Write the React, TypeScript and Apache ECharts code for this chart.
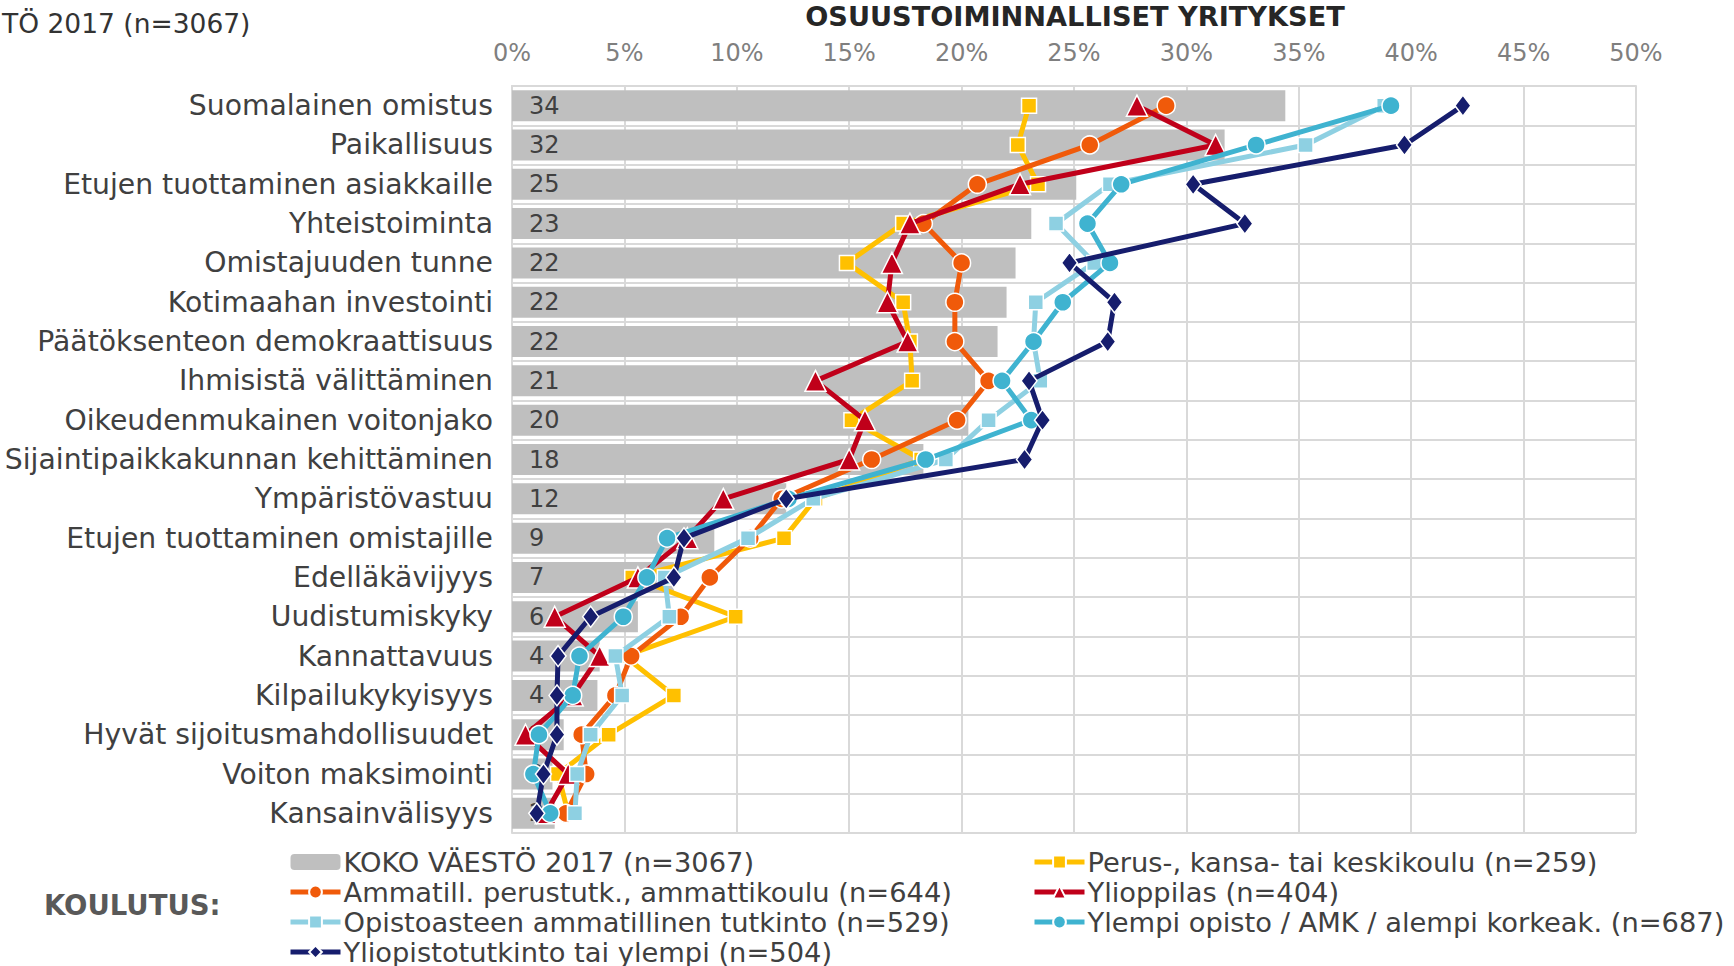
import React, { useEffect, useRef } from "react";
import * as echarts from "echarts";

const categories = [
  "Suomalainen omistus",
  "Paikallisuus",
  "Etujen tuottaminen asiakkaille",
  "Yhteistoiminta",
  "Omistajuuden tunne",
  "Kotimaahan investointi",
  "Päätöksenteon demokraattisuus",
  "Ihmisistä välittäminen",
  "Oikeudenmukainen voitonjako",
  "Sijaintipaikkakunnan kehittäminen",
  "Ympäristövastuu",
  "Etujen tuottaminen omistajille",
  "Edelläkävijyys",
  "Uudistumiskyky",
  "Kannattavuus",
  "Kilpailukykyisyys",
  "Hyvät sijoitusmahdollisuudet",
  "Voiton maksimointi",
  "Kansainvälisyys",
];

const kokoValues = [34.4, 31.7, 25.1, 23.1, 22.4, 22.0, 21.6, 20.6, 20.3, 18.3, 12.2, 9.0, 7.2, 5.6, 3.9, 3.8, 2.3, 1.8, 1.9];
const perusValues = [23.0, 22.5, 23.4, 17.4, 14.9, 17.4, 17.7, 17.8, 15.1, 18.2, 13.5, 12.1, 5.35, 9.95, 5.0, 7.2, 4.3, 2.05, 2.5];
const ammatillValues = [29.1, 25.7, 20.7, 18.3, 20.0, 19.7, 19.7, 21.2, 19.8, 16.0, 12.0, 10.6, 8.8, 7.5, 5.3, 4.6, 3.1, 3.3, 2.4];
const ylioppilasValues = [27.8, 31.3, 22.6, 17.7, 16.9, 16.7, 17.6, 13.5, 15.7, 15.0, 9.4, 7.8, 5.6, 1.9, 3.9, 2.7, 0.6, 2.5, 1.5];
const opistoValues = [38.8, 35.3, 26.6, 24.2, 25.9, 23.3, 23.2, 23.5, 21.2, 19.3, 13.4, 10.5, 6.8, 7.0, 4.6, 4.9, 3.5, 2.9, 2.8];
const ylempiValues = [39.1, 33.1, 27.1, 25.6, 26.6, 24.5, 23.2, 21.8, 23.1, 18.4, 12.3, 6.9, 6.0, 4.95, 3.0, 2.7, 1.2, 0.95, 1.7];
const yliopistoValues = [42.3, 39.7, 30.3, 32.6, 24.8, 26.8, 26.5, 23.0, 23.6, 22.8, 12.2, 7.65, 7.2, 3.5, 2.05, 2.0, 2.0, 1.4, 1.1];

const xMin = 0;
const xMax = 50;
const xStep = 5;

const seriesNames = {
  koko: "KOKO VÄESTÖ 2017 (n=3067)",
  perus: "Perus-, kansa- tai keskikoulu (n=259)",
  ammatill: "Ammatill. perustutk., ammattikoulu (n=644)",
  ylioppilas: "Ylioppilas (n=404)",
  opisto: "Opistoasteen ammatillinen tutkinto (n=529)",
  ylempi: "Ylempi opisto / AMK / alempi korkeak. (n=687)",
  yliopisto: "Yliopistotutkinto tai ylempi (n=504)",
};

const FONT = "'DejaVu Sans', Verdana, sans-serif";

function lineSeries(name: string, data: number[], color: string, symbol: string, size: any, z: number) {
  return {
    type: "line",
    name,
    data,
    symbol,
    symbolSize: size,
    z,
    lineStyle: { color, width: 5 },
    itemStyle: { color, borderColor: "#ffffff", borderWidth: 1.5 },
    emphasis: { disabled: true },
  };
}

const legendBase = {
  orient: "vertical",
  top: 848,
  itemWidth: 50,
  itemHeight: 16,
  itemGap: 2,
  padding: 0,
  lineStyle: { width: 5 },
  textStyle: { color: "#404040", fontSize: 27.3, fontFamily: FONT, lineHeight: 28, padding: [0, 0, 0, -2] },
  selectedMode: false,
};

export default function App() {
  const ref = useRef<HTMLDivElement>(null);
  useEffect(() => {
    if (!ref.current) return;
    const chart = echarts.init(ref.current, undefined, { renderer: "svg" });
    const option = {
      animation: false,
      backgroundColor: "#ffffff",
      textStyle: { fontFamily: FONT },
      grid: { left: 512, right: 98, top: 86, height: 747, containLabel: false },
      xAxis: {
        type: "value",
        position: "top",
        min: xMin,
        max: xMax,
        interval: xStep,
        axisLabel: { formatter: "{value}%", color: "#7f7f7f", fontSize: 24, fontFamily: FONT, margin: 21 },
        axisLine: { show: true, lineStyle: { color: "#d9d9d9", width: 2 } },
        axisTick: { show: false },
        splitLine: { show: true, lineStyle: { color: "#d9d9d9", width: 2 } },
      },
      yAxis: {
        type: "category",
        inverse: true,
        data: categories,
        axisLabel: { color: "#404040", fontSize: 28.25, fontFamily: FONT, margin: 19 },
        axisLine: { show: true, lineStyle: { color: "#d9d9d9", width: 2 } },
        axisTick: { show: false },
        splitLine: { show: true, lineStyle: { color: "#d9d9d9", width: 2 } },
      },
      legend: [
        {
          ...legendBase,
          data: [seriesNames.koko, seriesNames.ammatill, seriesNames.opisto, seriesNames.yliopisto],
          left: 288,
        },
        {
          ...legendBase,
          data: [seriesNames.perus, seriesNames.ylioppilas, seriesNames.ylempi],
          left: 1032,
        },
      ],
      graphic: [
        {
          type: "text",
          x: 2,
          y: 23,
          style: {
            text: "TÖ 2017 (n=3067)",
            fill: "#333333",
            font: `26.5px ${FONT}`,
            align: "left",
            verticalAlign: "middle",
            textAlign: "left",
            textVerticalAlign: "middle",
          },
        },
        {
          type: "text",
          x: 1075,
          y: 16,
          style: {
            text: "OSUUSTOIMINNALLISET YRITYKSET",
            fill: "#262626",
            font: `bold 27.2px ${FONT}`,
            align: "center",
            verticalAlign: "middle",
            textAlign: "center",
            textVerticalAlign: "middle",
          },
        },
        {
          type: "text",
          x: 44,
          y: 905,
          style: {
            text: "KOULUTUS:",
            fill: "#595959",
            font: `bold 27.5px ${FONT}`,
            align: "left",
            verticalAlign: "middle",
            textAlign: "left",
            textVerticalAlign: "middle",
          },
        },
      ],
      series: [
        {
          type: "bar",
          name: seriesNames.koko,
          data: kokoValues,
          barWidth: 31,
          z: 1,
          itemStyle: { color: "#bfbfbf" },
          emphasis: { disabled: true },
          label: {
            show: true,
            position: "insideLeft",
            distance: 17,
            color: "#404040",
            fontSize: 24,
            fontFamily: FONT,
            formatter: (p: any) => String(Math.round(p.value)),
          },
        },
        lineSeries(seriesNames.perus, perusValues, "#ffc000", "rect", 15, 3),
        lineSeries(seriesNames.ammatill, ammatillValues, "#f05a0a", "circle", 18, 4),
        lineSeries(seriesNames.ylioppilas, ylioppilasValues, "#c0001a", "triangle", 21, 5),
        lineSeries(seriesNames.opisto, opistoValues, "#8ed0e2", "rect", 15, 6),
        lineSeries(seriesNames.ylempi, ylempiValues, "#3fb3d0", "circle", 18, 7),
        lineSeries(seriesNames.yliopisto, yliopistoValues, "#161d6d", "diamond", [16, 21], 8),
      ],
    };
    chart.setOption(option as any);
    return () => chart.dispose();
  }, []);
  return (
    <div
      ref={ref}
      style={{ position: "absolute", left: 0, top: 0, width: 1734, height: 966 }}
    />
  );
}
